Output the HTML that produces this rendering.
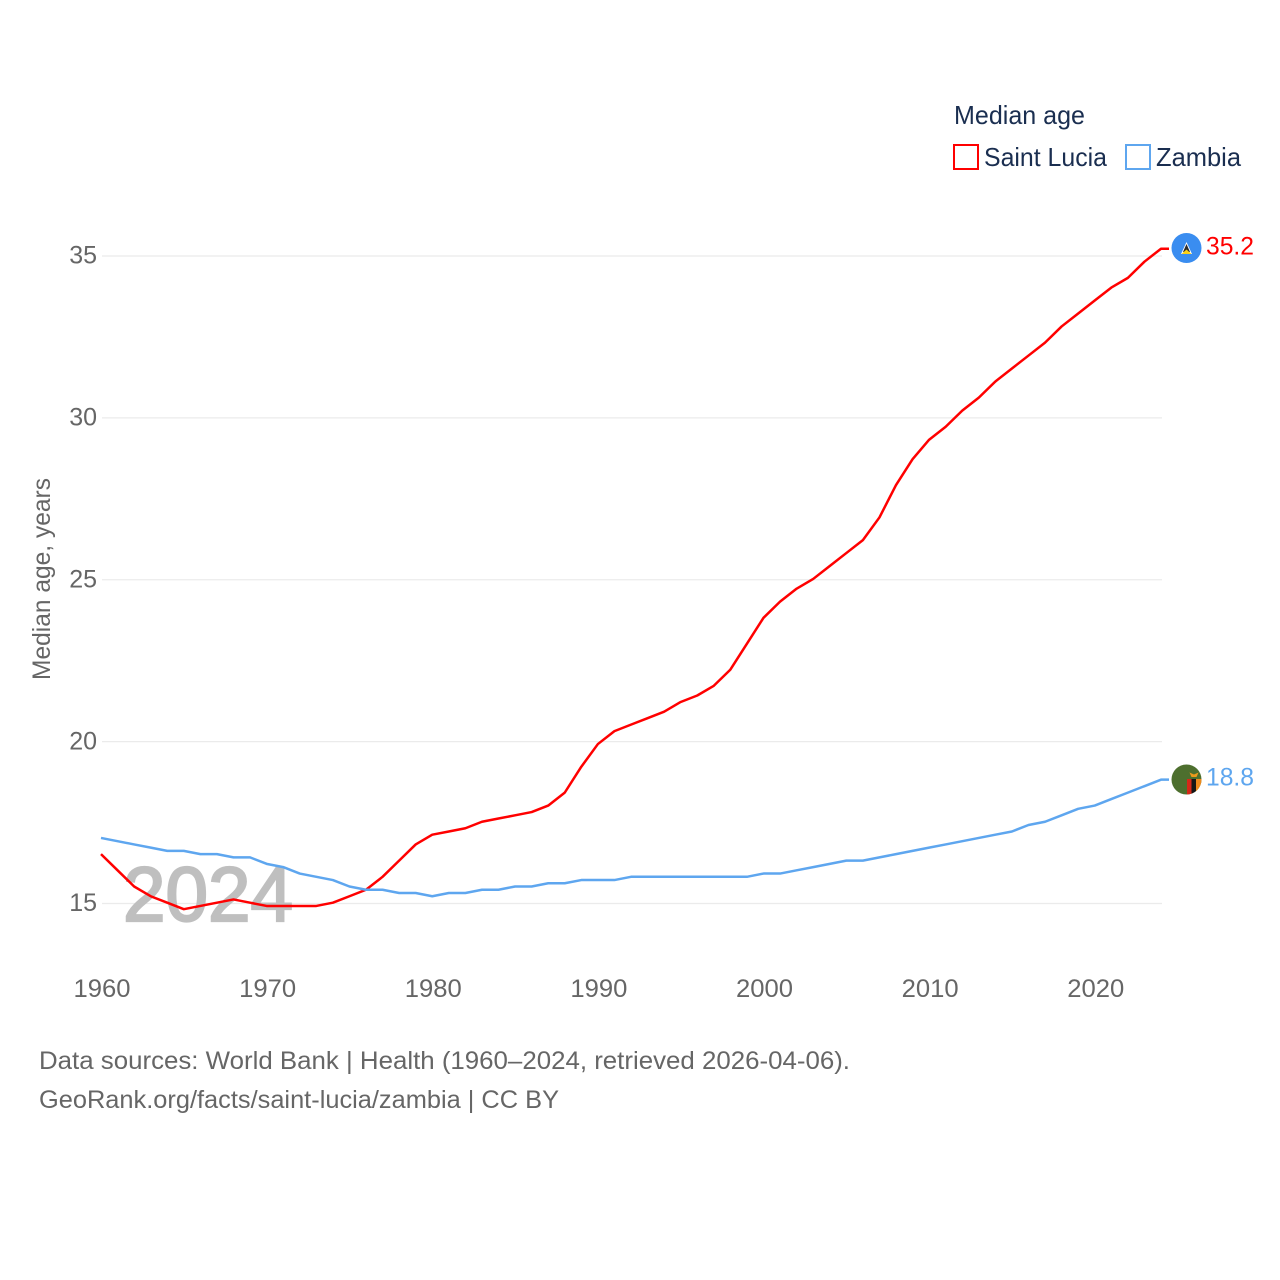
<!DOCTYPE html>
<html lang="en">
<head>
<meta charset="utf-8">
<title>Median age: Saint Lucia and Zambia</title>
<style>
html,body{margin:0;padding:0;background:#fff;}
svg{display:block;font-family:"Liberation Sans",sans-serif;}
</style>
</head>
<body>
<svg id="chart" width="1280" height="1280" viewBox="0 0 1280 1280" xmlns="http://www.w3.org/2000/svg">
  <defs>
    <clipPath id="flag-clip"><circle r="15"/></clipPath>
  </defs>
  <rect width="1280" height="1280" fill="#ffffff"/>
  <g id="grid"></g>
  <text x="123" y="921" font-size="77" font-weight="400" fill="#bfbfbf" stroke="#bfbfbf" stroke-width="2.2" textLength="170" lengthAdjust="spacingAndGlyphs">2024</text>
  <g id="y-ticks"></g>
  <g id="x-ticks"></g>
  <text transform="translate(50,680) rotate(-90)" font-size="25" fill="#666666" textLength="202" lengthAdjust="spacingAndGlyphs">Median age, years</text>
  <g id="series"></g>
  <g id="ends"></g>

  <g>
    <text x="954" y="124" font-size="26" fill="#1a2e50" textLength="131" lengthAdjust="spacingAndGlyphs">Median age</text>
    <g>
      <rect x="954" y="145" width="24" height="24" fill="#ffffff" stroke="#ff0000" stroke-width="2"/>
      <text x="984" y="166" font-size="26" fill="#1a2e50" textLength="123" lengthAdjust="spacingAndGlyphs">Saint Lucia</text>
    </g>
    <g>
      <rect x="1126" y="145" width="24" height="24" fill="#ffffff" stroke="#5ea6ef" stroke-width="2"/>
      <text x="1156" y="166" font-size="26" fill="#1a2e50" textLength="85" lengthAdjust="spacingAndGlyphs">Zambia</text>
    </g>
  </g>

  <g>
    <text x="39" y="1069" font-size="25" fill="#666666" textLength="811" lengthAdjust="spacingAndGlyphs">Data sources: World Bank | Health (1960–2024, retrieved 2026-04-06).</text>
    <text x="39" y="1108" font-size="25" fill="#666666" textLength="520" lengthAdjust="spacingAndGlyphs">GeoRank.org/facts/saint-lucia/zambia | CC BY</text>
  </g>
</svg>
<script>
const years = [1960,1961,1962,1963,1964,1965,1966,1967,1968,1969,1970,1971,1972,1973,1974,1975,1976,1977,1978,1979,1980,1981,1982,1983,1984,1985,1986,1987,1988,1989,1990,1991,1992,1993,1994,1995,1996,1997,1998,1999,2000,2001,2002,2003,2004,2005,2006,2007,2008,2009,2010,2011,2012,2013,2014,2015,2016,2017,2018,2019,2020,2021,2022,2023,2024];
const saintLucia = [16.5,16.0,15.5,15.2,15.0,14.8,14.9,15.0,15.1,15.0,14.9,14.9,14.9,14.9,15.0,15.2,15.4,15.8,16.3,16.8,17.1,17.2,17.3,17.5,17.6,17.7,17.8,18.0,18.4,19.2,19.9,20.3,20.5,20.7,20.9,21.2,21.4,21.7,22.2,23.0,23.8,24.3,24.7,25.0,25.4,25.8,26.2,26.9,27.9,28.7,29.3,29.7,30.2,30.6,31.1,31.5,31.9,32.3,32.8,33.2,33.6,34.0,34.3,34.8,35.2];
const zambia = [17.0,16.9,16.8,16.7,16.6,16.6,16.5,16.5,16.4,16.4,16.2,16.1,15.9,15.8,15.7,15.5,15.4,15.4,15.3,15.3,15.2,15.3,15.3,15.4,15.4,15.5,15.5,15.6,15.6,15.7,15.7,15.7,15.8,15.8,15.8,15.8,15.8,15.8,15.8,15.8,15.9,15.9,16.0,16.1,16.2,16.3,16.3,16.4,16.5,16.6,16.7,16.8,16.9,17.0,17.1,17.2,17.4,17.5,17.7,17.9,18.0,18.2,18.4,18.6,18.8];
const yTickValues = [15,20,25,30,35];
const xTickValues = [1960,1970,1980,1990,2000,2010,2020];

const NS = 'http://www.w3.org/2000/svg';
function xScale(year){ return 101 + (year - 1960) * (1060 / 64); }
function yScale(v){ return 903.2 - (v - 15) * (647.5 / 20); }
function make(tag, attrs, parent){
  const el = document.createElementNS(NS, tag);
  for (const k in attrs) el.setAttribute(k, attrs[k]);
  parent.appendChild(el);
  return el;
}

const grid = document.getElementById('grid');
const yTicks = document.getElementById('y-ticks');
yTickValues.forEach(function(v){
  const line = make('line', {x1:102, x2:1162, y1:yScale(v) + 0.3, y2:yScale(v) + 0.3, stroke:'#ebebeb', 'stroke-width':1.3}, grid);
  
  
  const label = make('text', {x:97, y:yScale(v) + 8, 'text-anchor':'end', 'font-size':25, fill:'#666666'}, yTicks);
  
  
  label.textContent = v;
});

const xTicks = document.getElementById('x-ticks');
xTickValues.forEach(function(y){
  const label = make('text', {x:xScale(y) + 1, y:997, 'text-anchor':'middle', 'font-size':25, fill:'#666666', textLength:57, lengthAdjust:'spacingAndGlyphs'}, xTicks);
  
  
  label.textContent = y;
});

function drawSeries(values, color, key){
  const pts = values.map(function(v, i){ return xScale(years[i]).toFixed(2) + ',' + (yScale(v) - 0.5).toFixed(2); });
  const lastY = yScale(values[values.length - 1]) - 0.5;
  const lastX = xScale(years[years.length - 1]);
  pts.push((lastX + 8) + ',' + lastY.toFixed(2));
  const line = make('polyline', {points:pts.join(' '), fill:'none', stroke:color, 'stroke-width':2.5, 'stroke-linejoin':'round'}, document.getElementById('series'));
  
  
}
drawSeries(saintLucia, '#ff0000', 'saint-lucia');
drawSeries(zambia, '#5ea6ef', 'zambia');

const ends = document.getElementById('ends');
const flagX = 1186.5;
const labelX = 1206;

function endLabel(values, color, key){
  const v = values[values.length - 1];
  const label = make('text', {x:labelX, y:yScale(v) + 5.5, 'font-size':25, fill:color, textLength:48, lengthAdjust:'spacingAndGlyphs'}, ends);
  
  
  label.textContent = v.toFixed(1);
}

// Saint Lucia flag marker
const lcY = yScale(saintLucia[saintLucia.length - 1]) - 1.2;
const lc = make('g', {transform:'translate(' + flagX + ',' + lcY + ')'}, ends);


make('circle', {r:15, fill:'#3a8df0'}, lc);
make('polygon', {points:'0,-6 5.5,6 -5.5,6', fill:'#ffffff'}, lc);
make('polygon', {points:'0,-4 3.5,4 -3.5,4', fill:'#2a2a2a'}, lc);
make('polygon', {points:'0,1.5 5,6 -5,6', fill:'#fcd116'}, lc);

// Zambia flag marker
const zmY = yScale(zambia[zambia.length - 1]) - 0.7;
const zm = make('g', {transform:'translate(' + flagX + ',' + zmY + ')'}, ends);


const zmClip = make('g', {'clip-path':'url(#flag-clip)'}, zm);
make('rect', {x:-15, y:-15, width:30, height:30, fill:'#4d6f2e'}, zmClip);
make('rect', {x:0.5, y:-0.5, width:4.5, height:16, fill:'#d62818'}, zmClip);
make('rect', {x:5, y:-0.5, width:4.5, height:16, fill:'#161616'}, zmClip);
make('rect', {x:9.5, y:-0.5, width:6, height:16, fill:'#ee8a1c'}, zmClip);
make('polygon', {points:'3,-7 7.5,-5 12,-7 10,-2.5 5,-2.5', fill:'#ee9a1c'}, zmClip);

endLabel(saintLucia, '#ff0000', 'saint-lucia');
endLabel(zambia, '#5ea6ef', 'zambia');
</script>
</body>
</html>
